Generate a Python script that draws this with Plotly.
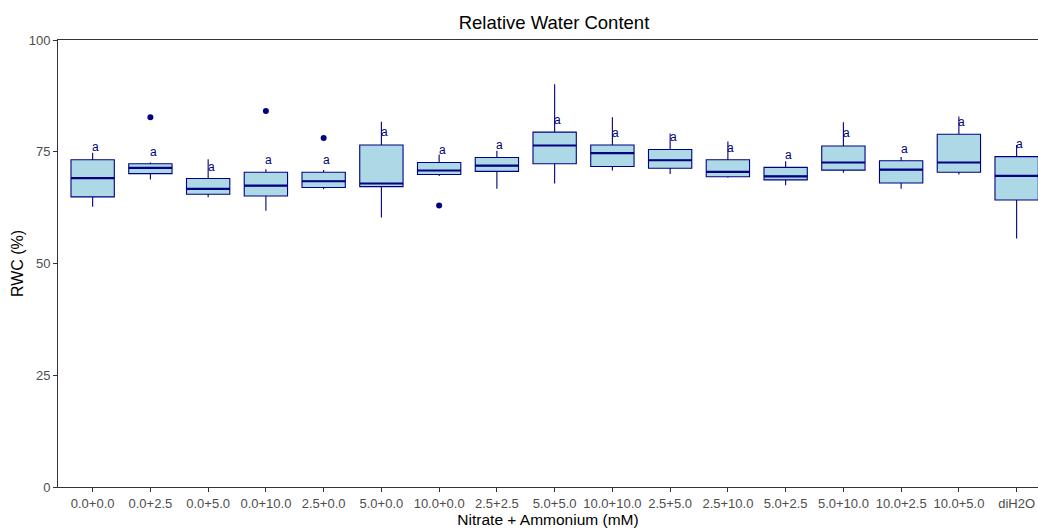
import plotly.graph_objects as go

# Treatments: nitrate + ammonium concentration (mM)
treatments = ["0.0+0.0", "0.0+2.5", "0.0+5.0", "0.0+10.0", "2.5+0.0", "5.0+0.0",
              "10.0+0.0", "2.5+2.5", "5.0+5.0", "10.0+10.0", "2.5+5.0", "2.5+10.0",
              "5.0+2.5", "5.0+10.0", "10.0+2.5", "10.0+5.0", "diH2O"]

# Box statistics of relative water content (%)
lower_whisker = [62.7, 68.8, 64.8, 61.8, 66.6, 60.3, 69.6, 66.7, 67.9, 70.8, 70.0, 69.2, 67.5, 70.3, 66.7, 69.9, 55.6]
q1            = [64.9, 70.1, 65.5, 65.1, 67.0, 67.2, 69.9, 70.6, 72.3, 71.7, 71.3, 69.4, 68.7, 70.9, 68.0, 70.4, 64.2]
median        = [69.1, 71.4, 66.7, 67.4, 68.4, 67.9, 70.8, 71.9, 76.4, 74.7, 73.1, 70.5, 69.5, 72.6, 71.0, 72.6, 69.6]
q3            = [73.2, 72.3, 69.0, 70.4, 70.4, 76.5, 72.6, 73.7, 79.4, 76.5, 75.5, 73.2, 71.5, 76.3, 73.0, 78.9, 73.9]
upper_whisker = [74.8, 72.6, 73.3, 71.1, 70.9, 81.7, 74.4, 75.2, 90.1, 82.7, 79.1, 77.3, 72.9, 81.6, 73.8, 82.9, 76.5]

# Outlying observations
outlier_treatment = ["0.0+2.5", "0.0+10.0", "2.5+0.0", "10.0+0.0"]
outlier_value     = [82.7, 84.1, 78.1, 63.0]

# Significance letters and their heights
letters   = ["a"] * 17
letter_y  = [76.1, 75.0, 71.7, 73.2, 73.1, 79.4, 75.3, 76.4, 82.1, 79.3, 78.3, 75.9, 74.2, 79.1, 75.7, 81.7, 76.7]

NAVY = "#000080"
FILL = "#ADD8E6"
FONT = "Liberation Sans, Arial, sans-serif"

fig = go.Figure()

# Boxes with whiskers
fig.add_trace(go.Box(
    x=treatments, q1=q1, median=median, q3=q3,
    lowerfence=lower_whisker, upperfence=upper_whisker,
    fillcolor=FILL, line=dict(color=NAVY, width=1.1),
    width=0.75, whiskerwidth=0, boxpoints=False, hoverinfo="skip",
    showlegend=False,
))

# Heavier median bar drawn as a flat box on top
fig.add_trace(go.Box(
    x=treatments, q1=median, median=median, q3=median,
    lowerfence=median, upperfence=median,
    fillcolor="rgba(0,0,0,0)", line=dict(color=NAVY, width=2.2),
    width=0.75, whiskerwidth=0, boxpoints=False, hoverinfo="skip",
    showlegend=False,
))

# Outliers
fig.add_trace(go.Scatter(
    x=outlier_treatment, y=outlier_value, mode="markers",
    marker=dict(color=NAVY, size=6), showlegend=False, hoverinfo="skip",
))

# Letter annotations
for t, lab, y in zip(treatments, letters, letter_y):
    fig.add_annotation(x=t, y=y, text=lab, showarrow=False, xshift=3,
                       font=dict(family=FONT, size=12, color=NAVY))

fig.update_layout(
    width=1038, height=529,
    margin=dict(l=58, r=0, t=40, b=42),
    paper_bgcolor="white", plot_bgcolor="white",
    boxmode="overlay",
    font=dict(family=FONT),
    title=dict(text="Relative Water Content", x=554 / 1038, xref="container",
               xanchor="center", y=1 - 23 / 529, yref="container", yanchor="middle",
               font=dict(family=FONT, size=18.5, color="black")),
)

fig.update_xaxes(
    type="category", categoryorder="array", categoryarray=treatments,
    range=[-0.6, 16.37],
    showline=True, linecolor="#333333", linewidth=1, mirror=True,
    ticks="outside", ticklen=4, tickcolor="#333333",
    tickfont=dict(family=FONT, size=13, color="#4D4D4D"),
    showgrid=False, zeroline=False,
    title=dict(text="Nitrate + Ammonium (mM)", standoff=2,
               font=dict(family=FONT, size=15.5, color="black")),
)

fig.update_yaxes(
    range=[0, 100], tickvals=[0, 25, 50, 75, 100],
    showline=True, linecolor="#333333", linewidth=1,
    ticks="outside", ticklen=4, tickcolor="#333333",
    tickfont=dict(family=FONT, size=13, color="#4D4D4D"),
    showgrid=False, zeroline=False,
    title=dict(text="RWC (%)", standoff=1,
               font=dict(family=FONT, size=16, color="black")),
)

fig.write_html("out.html")
